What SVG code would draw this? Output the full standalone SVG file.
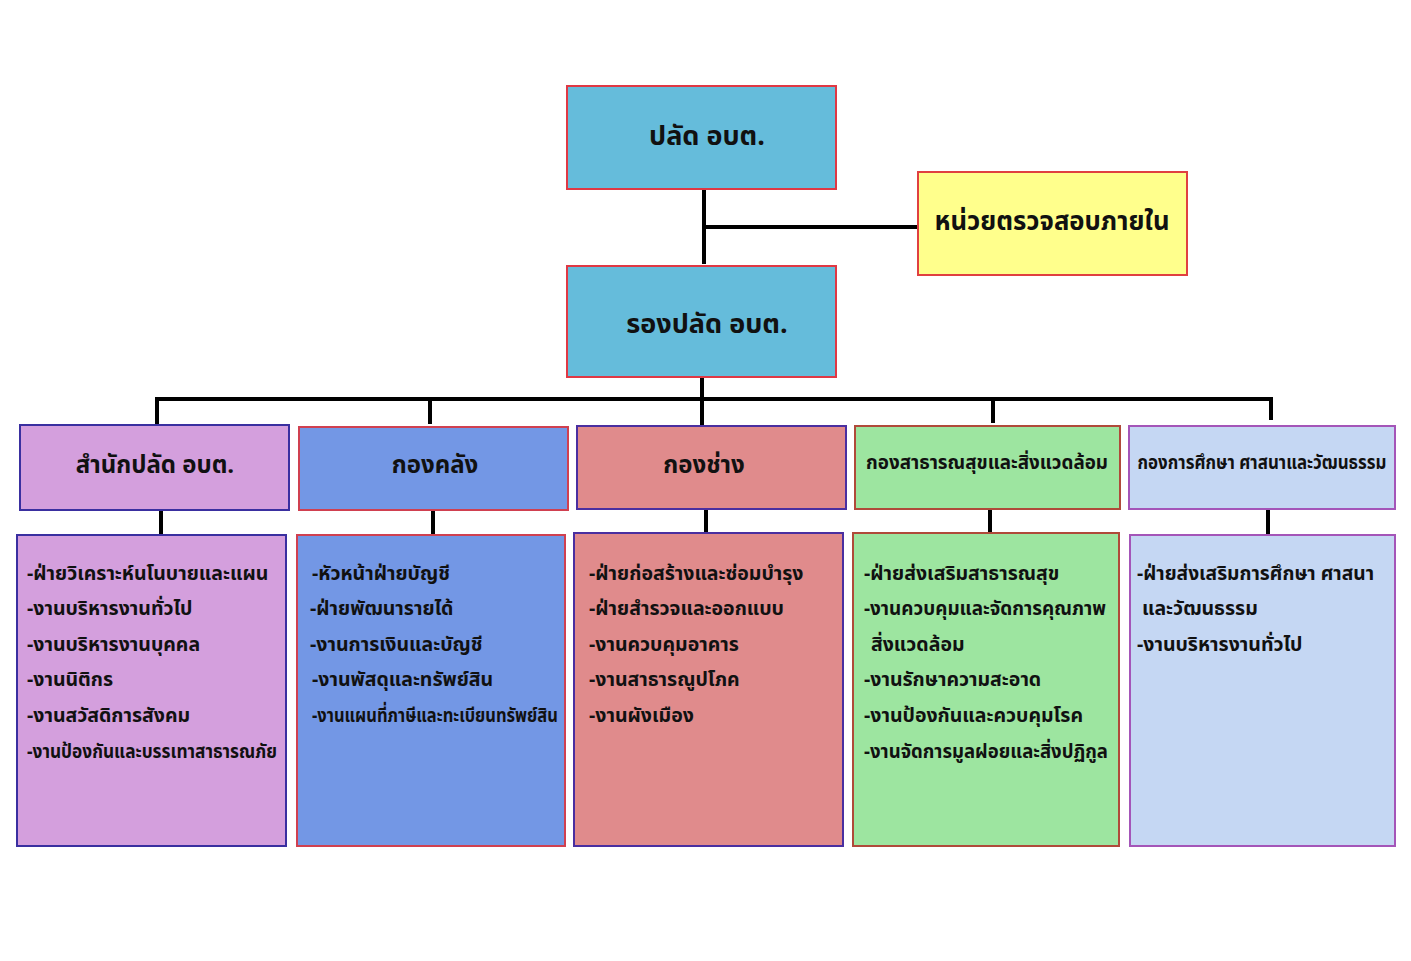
<svg xmlns="http://www.w3.org/2000/svg" width="1411" height="961" viewBox="0 0 1411 961">
<style>
text{font-family:"Noto Sans Thai","Noto Sans","DejaVu Sans",sans-serif;font-weight:bold;fill:#111;}
.t{font-size:27px;text-anchor:middle;}
.h{font-size:24px;text-anchor:middle;}
.hs{font-size:19px;text-anchor:middle;}
.i{font-size:19.5px;}
.c{stroke:#000;stroke-width:4;fill:none;}
</style>
<rect width="1411" height="961" fill="#fff"/>
<g id="connectors">
<path class="c" d="M704 189V264M704 227H918M702 377V399M157 399H1271M157 397V424M430 397V424M702 397V425M993 397V423M1271 397V420"/>
<path class="c" d="M161 510V535M433 510V535M706 509V533M990 509V533M1268 509V535"/>
</g>
<g id="n-palad"><rect x="567" y="86" width="269" height="103" fill="#65BCDB" stroke="#E03844" stroke-width="2"/><text class="t" x="707" y="145">ปลัด อบต.</text></g>
<g id="n-audit"><rect x="918" y="172" width="269" height="103" fill="#FFFF8C" stroke="#E04040" stroke-width="2"/><text class="t" x="1052" y="230" textLength="235" lengthAdjust="spacingAndGlyphs">หน่วยตรวจสอบภายใน</text></g>
<g id="n-rongpalad"><rect x="567" y="266" width="269" height="111" fill="#65BCDB" stroke="#E03844" stroke-width="2"/><text class="t" x="707" y="333">รองปลัด อบต.</text></g>
<g id="n-office"><rect x="20" y="425" width="269" height="85" fill="#D49FDD" stroke="#3A2FA0" stroke-width="2"/><text class="h" x="155" y="473">สำนักปลัด อบต.</text></g>
<g id="n-finance"><rect x="299" y="427" width="269" height="83" fill="#7397E5" stroke="#D04050" stroke-width="2"/><text class="h" x="435" y="473">กองคลัง</text></g>
<g id="n-works"><rect x="577" y="426" width="269" height="83" fill="#E08B8C" stroke="#4A2FA0" stroke-width="2"/><text class="h" x="704" y="473">กองช่าง</text></g>
<g id="n-health"><rect x="855" y="426" width="265" height="83" fill="#9DE5A0" stroke="#B04A3A" stroke-width="2"/><text class="hs" x="987" y="469" textLength="242" lengthAdjust="spacingAndGlyphs">กองสาธารณสุขและสิ่งแวดล้อม</text></g>
<g id="n-edu"><rect x="1129" y="426" width="266" height="83" fill="#C5D7F3" stroke="#A455B8" stroke-width="2"/><text class="hs" transform="translate(1262 469) scale(0.89 1)" x="0" y="0">กองการศึกษา ศาสนาและวัฒนธรรม</text></g>
<g id="d-office"><rect x="17" y="535" width="269" height="311" fill="#D49FDD" stroke="#3A2FA0" stroke-width="2"/>
<text class="i" x="27" y="580">-ฝ่ายวิเคราะห์นโนบายและแผน</text>
<text class="i" x="27" y="615">-งานบริหารงานทั่วไป</text>
<text class="i" x="27" y="651">-งานบริหารงานบุคคล</text>
<text class="i" x="27" y="686">-งานนิติกร</text>
<text class="i" x="27" y="722">-งานสวัสดิการสังคม</text>
<text class="i" x="27" y="758" textLength="250" lengthAdjust="spacingAndGlyphs">-งานป้องกันและบรรเทาสาธารณภัย</text></g>
<g id="d-finance"><rect x="297" y="535" width="268" height="311" fill="#7397E5" stroke="#D04050" stroke-width="2"/>
<text class="i" x="312" y="580">-หัวหน้าฝ่ายบัญชี</text>
<text class="i" x="310" y="615">-ฝ่ายพัฒนารายได้</text>
<text class="i" x="310" y="651">-งานการเงินและบัญชี</text>
<text class="i" x="312" y="686">-งานพัสดุและทรัพย์สิน</text>
<text class="i" transform="translate(312 722) scale(0.845 1)" x="0" y="0">-งานแผนที่ภาษีและทะเบียนทรัพย์สิน</text></g>
<g id="d-works"><rect x="574" y="533" width="269" height="313" fill="#E08B8C" stroke="#4A2FA0" stroke-width="2"/>
<text class="i" x="589" y="580">-ฝ่ายก่อสร้างและซ่อมบำรุง</text>
<text class="i" x="589" y="615">-ฝ่ายสำรวจและออกแบบ</text>
<text class="i" x="589" y="651">-งานควบคุมอาคาร</text>
<text class="i" x="589" y="686">-งานสาธารณูปโภค</text>
<text class="i" x="589" y="722">-งานผังเมือง</text></g>
<g id="d-health"><rect x="853" y="533" width="266" height="313" fill="#9DE5A0" stroke="#B04A3A" stroke-width="2"/>
<text class="i" x="864" y="580">-ฝ่ายส่งเสริมสาธารณสุข</text>
<text class="i" x="864" y="615" textLength="242" lengthAdjust="spacingAndGlyphs">-งานควบคุมและจัดการคุณภาพ</text>
<text class="i" x="871" y="651">สิ่งแวดล้อม</text>
<text class="i" x="864" y="686">-งานรักษาความสะอาด</text>
<text class="i" x="864" y="722">-งานป้องกันและควบคุมโรค</text>
<text class="i" x="864" y="758" textLength="244" lengthAdjust="spacingAndGlyphs">-งานจัดการมูลฝอยและสิ่งปฏิกูล</text></g>
<g id="d-edu"><rect x="1130" y="535" width="265" height="311" fill="#C5D7F3" stroke="#A455B8" stroke-width="2"/>
<text class="i" x="1137" y="580" textLength="237" lengthAdjust="spacingAndGlyphs">-ฝ่ายส่งเสริมการศึกษา ศาสนา</text>
<text class="i" x="1142" y="615">และวัฒนธรรม</text>
<text class="i" x="1137" y="651">-งานบริหารงานทั่วไป</text></g>
</svg>
